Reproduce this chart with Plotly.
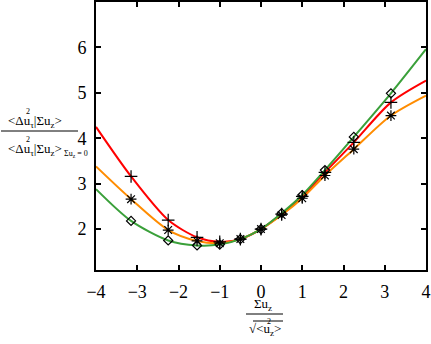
import plotly.graph_objects as go

# sample points (markers)
xs = [-3.15, -2.25, -1.55, -1.0, -0.5, 0.0, 0.5, 1.0, 1.55, 2.25, 3.15]
red = [3.16, 2.20, 1.82, 1.72, 1.78, 2.00, 2.33, 2.72, 3.25, 3.91, 4.79]
orange = [2.66, 1.98, 1.74, 1.69, 1.78, 2.00, 2.31, 2.68, 3.18, 3.76, 4.50]
green = [2.18, 1.75, 1.64, 1.66, 1.78, 2.00, 2.35, 2.75, 3.30, 4.03, 4.99]

# curve end values at x = -4 and x = 4
x_ends = [-4, 4]
red_ends = [4.25, 5.27]
orange_ends = [3.38, 4.94]
green_ends = [2.88, 5.96]

yticks = [2, 3, 4, 5, 6]

FONT = "Liberation Serif, Times New Roman, serif"
W, H = 431, 344
L, R, T, B = 96, 5, 2, 74
pw, ph = W - L - R, H - T - B


def px(x):
    return (x - L) / pw


def py(y):
    return (H - B - y) / ph


fig = go.Figure()

curves = [
    (red, red_ends, "#ff0000", "cross-thin-open", 9),
    (orange, orange_ends, "#ff8c00", "asterisk-open", 9),
    (green, green_ends, "#3aa03a", "diamond-open", 7),
]
for ys, ends, col, sym, size in curves:
    fig.add_trace(go.Scatter(
        x=[x_ends[0]] + xs + [x_ends[1]], y=[ends[0]] + ys + [ends[1]],
        mode="lines", line=dict(color=col, width=2, shape="spline", smoothing=0.8),
        showlegend=False, hoverinfo="skip"))
for ys, ends, col, sym, size in curves:
    fig.add_trace(go.Scatter(
        x=xs, y=ys, mode="markers",
        marker=dict(symbol=sym, size=size, color="black", line=dict(color="black", width=1.2)),
        showlegend=False))

axis_style = dict(showline=True, linewidth=2, linecolor="black", mirror="ticks",
                  ticks="inside", ticklen=5, tickwidth=2, tickcolor="black",
                  showgrid=False, zeroline=False, automargin=False,
                  tickfont=dict(family=FONT, size=18, color="black"))

fig.update_xaxes(range=[-4, 4], dtick=1, ticklabelstandoff=4, **axis_style)
fig.update_yaxes(range=[1.1, 7], tickvals=yticks, ticklabelstandoff=4, **axis_style)

ann = []
def text(x, y, s, size=13):
    ann.append(dict(x=px(x), y=py(y), xref="paper", yref="paper", text=s, showarrow=False,
                    font=dict(family=FONT, size=size, color="black"),
                    xanchor="center", yanchor="middle"))

# y-axis title (fraction)
text(35, 121, "&lt;Δu<sub>τ</sub>|Σu<sub>z</sub>&gt;")
text(28, 111, "2", 8)
text(35, 149, "&lt;Δu<sub>τ</sub>|Σu<sub>z</sub>&gt;")
text(28, 139, "2", 8)
text(76, 154, "Σu<sub>z</sub> = 0", 8)

# x-axis title (fraction)
text(263, 304, "Σu<sub>z</sub>")
text(265, 329, "√&lt;u<sub>z</sub>&gt;")
text(269, 321, "2", 8)

fig.update_layout(
    width=W, height=H, margin=dict(l=L, r=R, t=T, b=B, autoexpand=False),
    paper_bgcolor="white", plot_bgcolor="white",
    font=dict(family=FONT),
    annotations=ann,
    shapes=[
        dict(type="line", xref="paper", yref="paper", x0=px(1), x1=px(78), y0=py(131), y1=py(131),
             line=dict(color="black", width=1)),
        dict(type="line", xref="paper", yref="paper", x0=px(246), x1=px(283), y0=py(314), y1=py(314),
             line=dict(color="black", width=1)),
        dict(type="line", xref="paper", yref="paper", x0=px(253), x1=px(283), y0=py(321), y1=py(321),
             line=dict(color="black", width=1)),
    ],
)

fig.write_html("out.html", config={"displayModeBar": False},
               post_script="document.body.style.margin='0';")
